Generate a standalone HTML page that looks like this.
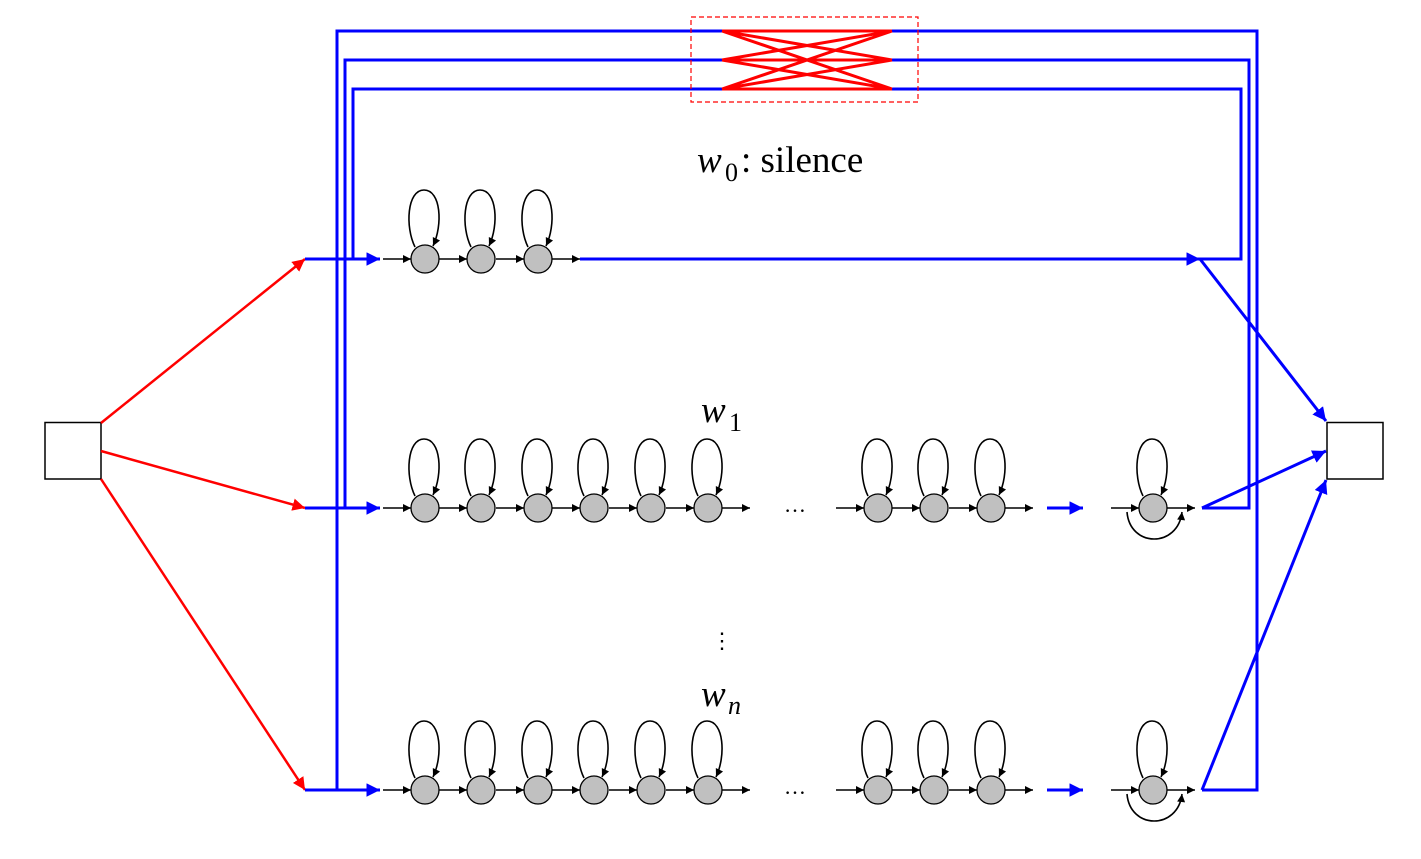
<!DOCTYPE html>
<html><head><meta charset="utf-8"><style>html,body{margin:0;padding:0;background:#fff}svg{display:block}</style></head>
<body>
<svg width="1421" height="859" viewBox="0 0 1421 859" xmlns="http://www.w3.org/2000/svg">
<defs>
<marker id="ab" viewBox="0 0 10 10" refX="10" refY="5" markerWidth="10" markerHeight="8" orient="auto" markerUnits="userSpaceOnUse"><path d="M0,0L10,5L0,10z" fill="#000"/></marker>
<marker id="abl" viewBox="0 0 10 10" refX="10" refY="5" markerWidth="4.5" markerHeight="4.5" orient="auto"><path d="M0,0L10,5L0,10z" fill="#00f"/></marker>
<marker id="ar" viewBox="0 0 10 10" refX="10" refY="5" markerWidth="5" markerHeight="5" orient="auto"><path d="M0,0L10,5L0,10z" fill="#f00"/></marker>
<g id="nd">
<path d="M-42,0H-14" stroke="#000" stroke-width="1.5" marker-end="url(#ab)"/>
<path d="M-10,-12C-20,-32 -18,-69 -1,-69C16,-69 18,-34 8,-13" stroke="#000" stroke-width="1.6" fill="none" marker-end="url(#ab)"/>
<circle r="14" fill="#c0c0c0" stroke="#000" stroke-width="1.3"/>
</g>
</defs>
<rect x="45" y="422.5" width="56" height="56.5" fill="#fff" stroke="#000" stroke-width="1.5"/>
<rect x="1327" y="422.5" width="56" height="56.5" fill="#fff" stroke="#000" stroke-width="1.5"/>
<g stroke="#f00" stroke-width="2.5" fill="none">
<line x1="101" y1="423" x2="305" y2="259" marker-end="url(#ar)"/>
<line x1="101" y1="451" x2="305" y2="508" marker-end="url(#ar)"/>
<line x1="101" y1="479" x2="305" y2="790" marker-end="url(#ar)"/>
</g>
<g stroke="#00f" stroke-width="3" fill="none">
<path d="M337,790V31H1257V790H1202"/>
<path d="M345,508V60H1249V508H1202"/>
<path d="M353,259V89H1241V259H1200"/>
<line x1="305" y1="259" x2="380" y2="259" marker-end="url(#abl)"/>
<line x1="305" y1="508" x2="380" y2="508" marker-end="url(#abl)"/>
<line x1="305" y1="790" x2="380" y2="790" marker-end="url(#abl)"/>
<line x1="580" y1="259" x2="1200" y2="259" marker-end="url(#abl)"/>
<line x1="1200" y1="259" x2="1326" y2="421" marker-end="url(#abl)"/>
<line x1="1202" y1="508" x2="1326" y2="451" marker-end="url(#abl)"/>
<line x1="1202" y1="790" x2="1326" y2="480" marker-end="url(#abl)"/>
<line x1="1047" y1="508" x2="1083" y2="508" marker-end="url(#abl)"/>
<line x1="1047" y1="790" x2="1083" y2="790" marker-end="url(#abl)"/>
</g>
<rect x="691" y="17" width="227" height="85" fill="none" stroke="#f00" stroke-width="1.2" stroke-dasharray="5,3"/>
<g stroke="#f00" stroke-width="3" fill="none">
<path d="M722,31H892M722,60H892M722,89H892M722,31L892,60M722,31L892,89M722,60L892,31M722,60L892,89M722,89L892,31M722,89L892,60"/>
</g>
<g>
<use href="#nd" x="425" y="259"/><use href="#nd" x="481" y="259"/><use href="#nd" x="538" y="259"/>
<line x1="552" y1="259" x2="580" y2="259" stroke="#000" stroke-width="1.5" marker-end="url(#ab)"/>
</g>
<g id="row">
<use href="#nd" x="425" y="508"/><use href="#nd" x="481" y="508"/><use href="#nd" x="538" y="508"/>
<use href="#nd" x="594" y="508"/><use href="#nd" x="651" y="508"/><use href="#nd" x="708" y="508"/>
<line x1="722" y1="508" x2="750" y2="508" stroke="#000" stroke-width="1.5" marker-end="url(#ab)"/>
<use href="#nd" x="878" y="508"/><use href="#nd" x="934" y="508"/><use href="#nd" x="991" y="508"/>
<line x1="1005" y1="508" x2="1033" y2="508" stroke="#000" stroke-width="1.5" marker-end="url(#ab)"/>
<use href="#nd" x="1153" y="508"/>
<line x1="1167" y1="508" x2="1195" y2="508" stroke="#000" stroke-width="1.5" marker-end="url(#ab)"/>
<path d="M1127,512C1130,548 1178,548 1182,512" stroke="#000" stroke-width="1.6" fill="none" marker-end="url(#ab)"/>
</g>
<use href="#row" x="0" y="282"/>
<g font-family="'Liberation Serif', serif" fill="#000">
<text x="697" y="172" font-size="37" font-style="italic">w</text>
<text x="725" y="181" font-size="26">0</text>
<text x="741" y="172" font-size="37">: silence</text>
<text x="701" y="422" font-size="37" font-style="italic">w</text>
<text x="729" y="431" font-size="26">1</text>
<text x="701" y="706" font-size="37" font-style="italic">w</text>
<text x="728" y="714" font-size="26" font-style="italic">n</text>
<text x="784" y="512" font-size="22">…</text>
<text x="784" y="794" font-size="22">…</text>
<text x="711" y="648" font-size="22">⋮</text>
</g>
</svg>
</body></html>
